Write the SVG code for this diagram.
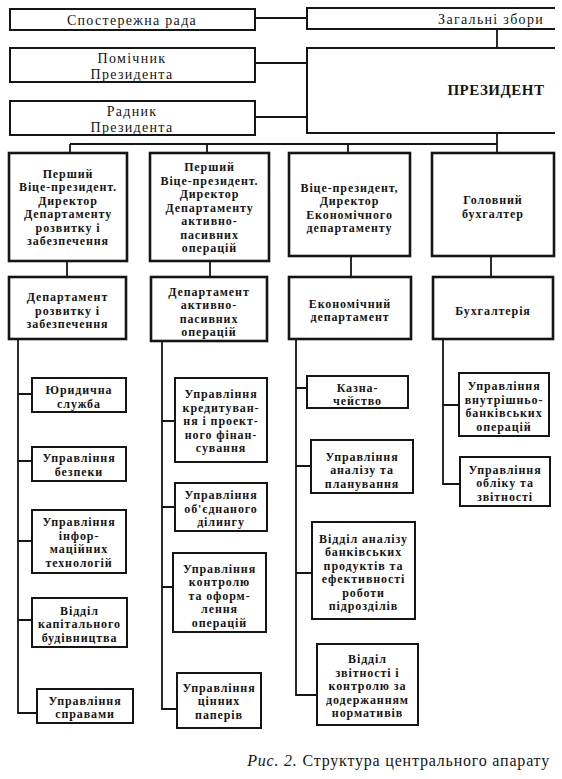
<svg xmlns="http://www.w3.org/2000/svg" width="562" height="779" viewBox="0 0 562 779">
<style>
.bx{fill:#fff;stroke:#151515;stroke-width:2}
.tk{stroke-width:2.6}
.ln{fill:none;stroke:#151515;stroke-width:1.8}
.t{font-family:"Liberation Serif","DejaVu Serif",serif;font-size:12px;font-weight:bold;letter-spacing:0.9px;text-anchor:middle;fill:#151515}
.r{font-weight:normal;font-size:14px;letter-spacing:1.3px}
.cap{font-family:"Liberation Serif","DejaVu Serif",serif;font-size:16px;letter-spacing:0.8px;fill:#151515}
</style>
<rect width="562" height="779" fill="#fff"/>
<g id="connectors">
<path class="ln" d="M255,18H307 M497,29V48 M255,63H307 M255,117H307 M497,133V153 M70,144H497 M70,144V153 M207,144V153 M348,144V153"/>
<path class="ln" d="M67,261V277 M210,261V277 M351,256V277 M491,256V277"/>
<path class="ln" d="M18,339V713H37 M18,394H32 M18,461H32 M18,541H32 M18,620H32"/>
<path class="ln" d="M162,341V709H177 M162,421H175 M162,507H175 M162,587H173"/>
<path class="ln" d="M296,339V695H317 M296,388H307 M296,466H311 M296,573H312"/>
<path class="ln" d="M443,339V484H460 M443,405H459"/>
</g>
<g id="sposterezhna-rada">
<rect class="bx" x="10" y="9" width="245" height="21"/>
<text class="t r" x="132" y="24.5">Спостережна рада</text>
</g>
<g id="zagalni-zbory">
<path class="ln" d="M555,8H307V29H555" style="stroke-width:2"/>
<text class="t r" x="544" y="24" style="text-anchor:end">Загальні збори</text>
</g>
<g id="pomichnyk">
<rect class="bx" x="10" y="48" width="245" height="34"/>
<text class="t r" x="132" y="63">Помічник</text>
<text class="t r" x="132" y="78.5">Президента</text>
</g>
<g id="president">
<path class="ln" d="M555,48H307V133H555" style="stroke-width:2"/>
<text class="t" x="496" y="95" style="font-size:15px;letter-spacing:0.5px">ПРЕЗИДЕНТ</text>
</g>
<g id="radnyk">
<rect class="bx" x="10" y="101" width="245" height="34"/>
<text class="t r" x="132" y="116">Радник</text>
<text class="t r" x="132" y="131.5">Президента</text>
</g>
<g id="vp1">
<rect class="bx tk" x="9" y="153" width="118" height="108"/>
<text class="t" x="68" y="177.5">Перший</text>
<text class="t" x="68" y="191">Віце-президент.</text>
<text class="t" x="68" y="204.5">Директор</text>
<text class="t" x="68" y="218">Департаменту</text>
<text class="t" x="68" y="231.5">розвитку і</text>
<text class="t" x="68" y="245">забезпечення</text>
</g>
<g id="vp2">
<rect class="bx tk" x="150" y="153" width="119" height="108"/>
<text class="t" x="209.5" y="171">Перший</text>
<text class="t" x="209.5" y="184.5">Віце-президент.</text>
<text class="t" x="209.5" y="198">Директор</text>
<text class="t" x="209.5" y="211.5">Департаменту</text>
<text class="t" x="209.5" y="225">активно-</text>
<text class="t" x="209.5" y="238.5">пасивних</text>
<text class="t" x="209.5" y="252">операцій</text>
</g>
<g id="vp3">
<rect class="bx tk" x="289" y="153" width="121" height="103"/>
<text class="t" x="349.5" y="191.5">Віце-президент,</text>
<text class="t" x="349.5" y="205">Директор</text>
<text class="t" x="349.5" y="218.5">Економічного</text>
<text class="t" x="349.5" y="232">департаменту</text>
</g>
<g id="chief-accountant">
<rect class="bx tk" x="432" y="153" width="122" height="103"/>
<text class="t" x="493" y="204">Головний</text>
<text class="t" x="493" y="217.5">бухгалтер</text>
</g>
<g id="dept1">
<rect class="bx tk" x="9" y="277" width="117" height="62"/>
<text class="t" x="67.5" y="301">Департамент</text>
<text class="t" x="67.5" y="314.5">розвитку і</text>
<text class="t" x="67.5" y="328">забезпечення</text>
</g>
<g id="dept2">
<rect class="bx tk" x="151" y="277" width="116" height="64"/>
<text class="t" x="209" y="295.5">Департамент</text>
<text class="t" x="209" y="309">активно-</text>
<text class="t" x="209" y="322.5">пасивних</text>
<text class="t" x="209" y="336">операцій</text>
</g>
<g id="dept3">
<rect class="bx tk" x="289" y="277" width="122" height="62"/>
<text class="t" x="350" y="307.5">Економічний</text>
<text class="t" x="350" y="321">департамент</text>
</g>
<g id="dept4">
<rect class="bx tk" x="433" y="277" width="120" height="62"/>
<text class="t" x="493" y="314.5">Бухгалтерія</text>
</g>
<g id="c1a">
<rect class="bx" x="32" y="378" width="94" height="34"/>
<text class="t" x="79" y="394">Юридична</text>
<text class="t" x="79" y="407.5">служба</text>
</g>
<g id="c1b">
<rect class="bx" x="32" y="447" width="94" height="34"/>
<text class="t" x="79" y="462">Управління</text>
<text class="t" x="79" y="475.5">безпеки</text>
</g>
<g id="c1c">
<rect class="bx" x="32" y="510" width="94" height="63"/>
<text class="t" x="79" y="526">Управління</text>
<text class="t" x="79" y="539.5">інфор-</text>
<text class="t" x="79" y="553">маційних</text>
<text class="t" x="79" y="566.5">технологій</text>
</g>
<g id="c1d">
<rect class="bx" x="32" y="598" width="95" height="49"/>
<text class="t" x="79.5" y="614.5">Відділ</text>
<text class="t" x="79.5" y="628">капітального</text>
<text class="t" x="79.5" y="641.5">будівництва</text>
</g>
<g id="c1e">
<rect class="bx" x="37" y="689" width="96" height="34"/>
<text class="t" x="85" y="704.5">Управління</text>
<text class="t" x="85" y="718">справами</text>
</g>
<g id="c2a">
<rect class="bx" x="175" y="378" width="92" height="84"/>
<text class="t" x="221" y="398">Управління</text>
<text class="t" x="221" y="411.5">кредитуван-</text>
<text class="t" x="221" y="425">ня і проект-</text>
<text class="t" x="221" y="438.5">ного фінан-</text>
<text class="t" x="221" y="452">сування</text>
</g>
<g id="c2b">
<rect class="bx" x="175" y="483" width="92" height="48"/>
<text class="t" x="221" y="499">Управління</text>
<text class="t" x="221" y="512.5">об'єднаного</text>
<text class="t" x="221" y="526">ділингу</text>
</g>
<g id="c2c">
<rect class="bx" x="173" y="553" width="93" height="79"/>
<text class="t" x="219.5" y="572.5">Управління</text>
<text class="t" x="219.5" y="586">контролю</text>
<text class="t" x="219.5" y="599.5">та оформ-</text>
<text class="t" x="219.5" y="613">лення</text>
<text class="t" x="219.5" y="626.5">операцій</text>
</g>
<g id="c2d">
<rect class="bx" x="177" y="673" width="84" height="55"/>
<text class="t" x="219" y="691.5">Управління</text>
<text class="t" x="219" y="705">цінних</text>
<text class="t" x="219" y="718.5">паперів</text>
</g>
<g id="c3a">
<rect class="bx" x="307" y="376" width="101" height="32"/>
<text class="t" x="357.5" y="391.5">Казна-</text>
<text class="t" x="357.5" y="405">чейство</text>
</g>
<g id="c3b">
<rect class="bx" x="311" y="440" width="102" height="53"/>
<text class="t" x="362" y="460.5">Управління</text>
<text class="t" x="362" y="474">аналізу та</text>
<text class="t" x="362" y="487.5">планування</text>
</g>
<g id="c3c">
<rect class="bx" x="312" y="522" width="103" height="97"/>
<text class="t" x="363.5" y="542.5">Відділ аналізу</text>
<text class="t" x="363.5" y="556">банківських</text>
<text class="t" x="363.5" y="569.5">продуктів та</text>
<text class="t" x="363.5" y="583">ефективності</text>
<text class="t" x="363.5" y="596.5">роботи</text>
<text class="t" x="363.5" y="610">підрозділів</text>
</g>
<g id="c3d">
<rect class="bx" x="317" y="644" width="101" height="81"/>
<text class="t" x="367.5" y="663">Відділ</text>
<text class="t" x="367.5" y="676.5">звітності і</text>
<text class="t" x="367.5" y="690">контролю за</text>
<text class="t" x="367.5" y="703.5">додержанням</text>
<text class="t" x="367.5" y="717">нормативів</text>
</g>
<g id="c4a">
<rect class="bx" x="459" y="373" width="90" height="63"/>
<text class="t" x="504" y="390">Управління</text>
<text class="t" x="504" y="403.5">внутрішньо-</text>
<text class="t" x="504" y="417">банківських</text>
<text class="t" x="504" y="430.5">операцій</text>
</g>
<g id="c4b">
<rect class="bx" x="460" y="457" width="90" height="49"/>
<text class="t" x="505" y="473.5">Управління</text>
<text class="t" x="505" y="487">обліку та</text>
<text class="t" x="505" y="500.5">звітності</text>
</g>
<text class="cap" x="550" y="766" text-anchor="end"><tspan font-style="italic">Рис. 2.</tspan> Структура центрального апарату</text>
</svg>
